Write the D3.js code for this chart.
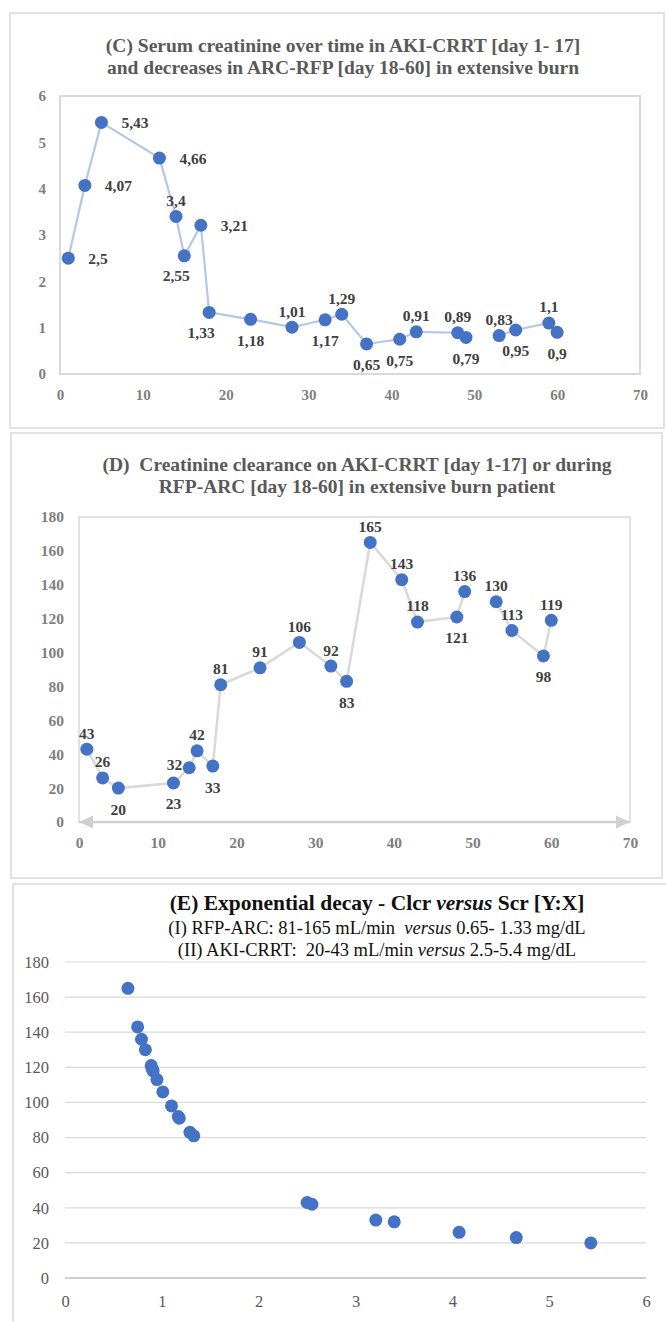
<!DOCTYPE html>
<html>
<head>
<meta charset="utf-8">
<script src="https://cdn.jsdelivr.net/npm/d3@7"></script>
<style>
  body { margin: 0; background: #fff; }
  svg { display: block; }
  text { white-space: pre; font-family: "Liberation Serif", "Times New Roman", serif; }
</style>
</head>
<body>
<svg id="chart" width="666" height="1322"></svg>
<script>
// Data
const days = [1, 3, 5, 12, 14, 15, 17, 18, 23, 28, 32, 34, 37, 41, 43, 48, 49, 53, 55, 59, 60];
const serumCreatinine = [2.5, 4.07, 5.43, 4.66, 3.4, 2.55, 3.21, 1.33, 1.18, 1.01, 1.17, 1.29, 0.65, 0.75, 0.91, 0.89, 0.79, 0.83, 0.95, 1.1, 0.9];
const creatinineClearance = [43, 26, 20, 23, 32, 42, 33, 81, 91, 106, 92, 83, 165, 143, 118, 121, 136, 130, 113, 98, 119];
const lineGapAfterDay = 49; // no reading between day 49 and 53

const dayTicks = [0, 10, 20, 30, 40, 50, 60, 70];
const scrTicks = [0, 1, 2, 3, 4, 5, 6];
const clcrTicks = [0, 20, 40, 60, 80, 100, 120, 140, 160, 180];

// label placement per point (r = right, t = top, b = below, l = left, bl = below-left)
const scrLabelPos = ['r', 'r', 'r', 'r', 't', 'bl', 'r', 'bl', 'b', 't', 'b', 't', 'b', 'b', 't', 't', 'b', 't', 'b', 't', 'b'];
const clcrLabelPos = ['t', 't', 'b', 'b', 'l', 't', 'b', 't', 't', 't', 't', 'b', 't', 't', 't', 'b', 't', 't', 't', 'b', 't'];

const svg = d3.select('#chart');
const SERIF = '"Liberation Serif", "Times New Roman", serif';
const BLUE = '#4472c4';
const GRID = '#d9d9d9';

// panel frames
svg.append('rect').attr('x', 10).attr('y', 13).attr('width', 654).attr('height', 415)
    .attr('fill', '#fff').attr('stroke', GRID).attr('stroke-width', 1.5);
svg.append('rect').attr('x', 11).attr('y', 433).attr('width', 651).attr('height', 445)
    .attr('fill', '#fff').attr('stroke', GRID).attr('stroke-width', 1.5);
svg.append('rect').attr('x', 13).attr('y', 884).attr('width', 660).attr('height', 460)
    .attr('fill', '#fff').attr('stroke', GRID).attr('stroke-width', 1.5);

function title(lines, cx, y0, lh) {
    lines.forEach((t, i) => {
        svg.append('text')
            .attr('x', cx).attr('y', y0 + i * lh)
            .attr('text-anchor', 'middle')
            .attr('fill', '#595959')
            .style('font-family', SERIF)
            .style('font-size', '19.5px').style('font-weight', 'bold')
            .text(t);
    });
}

function axes(x, y, xt, yt, opts) {
    const fmt = d3.format('d');
    const gx = svg.append('g')
        .attr('transform', `translate(0,${opts.xLabelY})`)
        .call(d3.axisBottom(x).tickValues(xt).tickFormat(fmt).tickSize(0).tickPadding(0));
    const gy = svg.append('g')
        .attr('transform', `translate(${opts.yLabelX},0)`)
        .call(d3.axisLeft(y).tickValues(yt).tickFormat(fmt).tickSize(0).tickPadding(0));
    [gx, gy].forEach(g => {
        g.select('.domain').remove();
        g.selectAll('text')
            .attr('fill', opts.color)
            .style('font-family', SERIF)
            .style('font-size', opts.size)
            .style('font-weight', opts.weight);
    });
    gx.selectAll('text').attr('dy', '0.35em').attr('y', 0);
}

function pointLabels(x, y, xs, ys, pos, fmt) {
    const g = svg.append('g');
    xs.forEach((d, i) => {
        const px = x(d), py = y(ys[i]);
        let tx = px, ty = py, anchor = 'middle';
        const p = pos[i];
        if (p === 'r') { tx = px + 20; anchor = 'start'; }
        if (p === 'l') { tx = px - 7; ty = py - 3; anchor = 'end'; }
        if (p === 't') { ty = py - 16; }
        if (p === 'b') { ty = py + 21; }
        if (p === 'bl') { tx = px - 8; ty = py + 20; }
        g.append('text')
            .attr('x', tx).attr('y', ty).attr('dy', '0.35em')
            .attr('text-anchor', anchor)
            .attr('fill', '#404040')
            .style('font-family', SERIF)
            .style('font-size', '15.5px').style('font-weight', 'bold')
            .text(fmt(ys[i]));
    });
}

function segments(vals) {
    const pts = days.map((d, i) => [d, vals[i]]);
    return [pts.filter(p => p[0] <= lineGapAfterDay), pts.filter(p => p[0] > lineGapAfterDay)];
}

const commaFmt = v => String(v).replace('.', ',');

// ---------------- (C) serum creatinine over time ----------------
title(['(C) Serum creatinine over time in AKI-CRRT [day 1- 17]',
       'and decreases in ARC-RFP [day 18-60] in extensive burn'], 343, 52, 22);

const xC = d3.scaleLinear().domain([0, 70]).range([60, 640]);
const yC = d3.scaleLinear().domain([0, 6]).range([374, 96]);

svg.append('rect').attr('x', xC(0)).attr('y', yC(6))
    .attr('width', xC(70) - xC(0)).attr('height', yC(0) - yC(6))
    .attr('fill', 'none').attr('stroke', GRID).attr('stroke-width', 2);

axes(xC, yC, dayTicks, scrTicks, {xLabelY: 395, yLabelX: 46, color: '#7f7f7f', size: '15px', weight: 'bold'});

const lineC = d3.line().x(d => xC(d[0])).y(d => yC(d[1]));
segments(serumCreatinine).forEach(seg => {
    svg.append('path').attr('d', lineC(seg))
        .attr('fill', 'none').attr('stroke', '#b4c7e7').attr('stroke-width', 2.2);
});
svg.append('g').selectAll('circle').data(days).join('circle')
    .attr('cx', d => xC(d)).attr('cy', (d, i) => yC(serumCreatinine[i]))
    .attr('r', 6.5).attr('fill', BLUE);
pointLabels(xC, yC, days, serumCreatinine, scrLabelPos, commaFmt);

// ---------------- (D) creatinine clearance over time ----------------
title(['(D)  Creatinine clearance on AKI-CRRT [day 1-17] or during',
       'RFP-ARC [day 18-60] in extensive burn patient'], 357, 471, 22);

const xD = d3.scaleLinear().domain([0, 70]).range([79, 630]);
const yD = d3.scaleLinear().domain([0, 180]).range([822, 517]);

svg.append('rect').attr('x', xD(0)).attr('y', yD(180))
    .attr('width', xD(70) - xD(0)).attr('height', yD(0) - yD(180))
    .attr('fill', 'none').attr('stroke', GRID).attr('stroke-width', 1.5);
// x axis with arrow heads at both ends
svg.append('line').attr('x1', xD(0)).attr('x2', xD(70)).attr('y1', yD(0)).attr('y2', yD(0))
    .attr('stroke', '#d0d0d0').attr('stroke-width', 2.5);
svg.append('path')
    .attr('d', `M${xD(0)},${yD(0)} l14,-6.5 l0,13 Z M${xD(70)},${yD(0)} l-14,-6.5 l0,13 Z`)
    .attr('fill', '#d0d0d0');

axes(xD, yD, dayTicks, clcrTicks, {xLabelY: 843, yLabelX: 64, color: '#7f7f7f', size: '15.5px', weight: 'bold'});

const lineD = d3.line().x(d => xD(d[0])).y(d => yD(d[1]));
segments(creatinineClearance).forEach(seg => {
    svg.append('path').attr('d', lineD(seg))
        .attr('fill', 'none').attr('stroke', '#d9d9d9').attr('stroke-width', 2.5);
});
svg.append('g').selectAll('circle').data(days).join('circle')
    .attr('cx', d => xD(d)).attr('cy', (d, i) => yD(creatinineClearance[i]))
    .attr('r', 6.5).attr('fill', BLUE);
pointLabels(xD, yD, days, creatinineClearance, clcrLabelPos, v => String(v));

// ---------------- (E) Clcr versus Scr scatter ----------------
const eTitle = [
    {size: '21.5px', weight: 'bold', y: 910, parts: ['(E) Exponential decay - Clcr ', 'versus', ' Scr [Y:X]']},
    {size: '18.5px', weight: 'normal', y: 934, parts: ['(I) RFP-ARC: 81-165 mL/min  ', 'versus', ' 0.65- 1.33 mg/dL']},
    {size: '18.5px', weight: 'normal', y: 956, parts: ['(II) AKI-CRRT:  20-43 mL/min ', 'versus', ' 2.5-5.4 mg/dL']}
];
eTitle.forEach(l => {
    const t = svg.append('text').attr('x', 377).attr('y', l.y).attr('text-anchor', 'middle')
        .attr('fill', '#111').style('font-family', SERIF)
        .style('font-size', l.size).style('font-weight', l.weight);
    l.parts.forEach((p, i) => t.append('tspan').style('font-style', i === 1 ? 'italic' : 'normal').text(p));
});

const xE = d3.scaleLinear().domain([0, 6]).range([65, 646]);
const yE = d3.scaleLinear().domain([0, 180]).range([1278, 962]);

svg.append('g').selectAll('line').data(clcrTicks.filter(t => t > 0)).join('line')
    .attr('x1', xE(0)).attr('x2', xE(6)).attr('y1', d => yE(d)).attr('y2', d => yE(d))
    .attr('stroke', GRID).attr('stroke-width', 1.2);
svg.append('line').attr('x1', xE(0)).attr('x2', xE(6)).attr('y1', yE(0)).attr('y2', yE(0))
    .attr('stroke', '#bfbfbf').attr('stroke-width', 1.5);

axes(xE, yE, scrTicks, clcrTicks, {xLabelY: 1301, yLabelX: 49, color: '#595959', size: '16.5px', weight: 'normal'});

svg.append('g').selectAll('circle').data(serumCreatinine).join('circle')
    .attr('cx', d => xE(d)).attr('cy', (d, i) => yE(creatinineClearance[i]))
    .attr('r', 6.5).attr('fill', BLUE);
</script>
</body>
</html>
